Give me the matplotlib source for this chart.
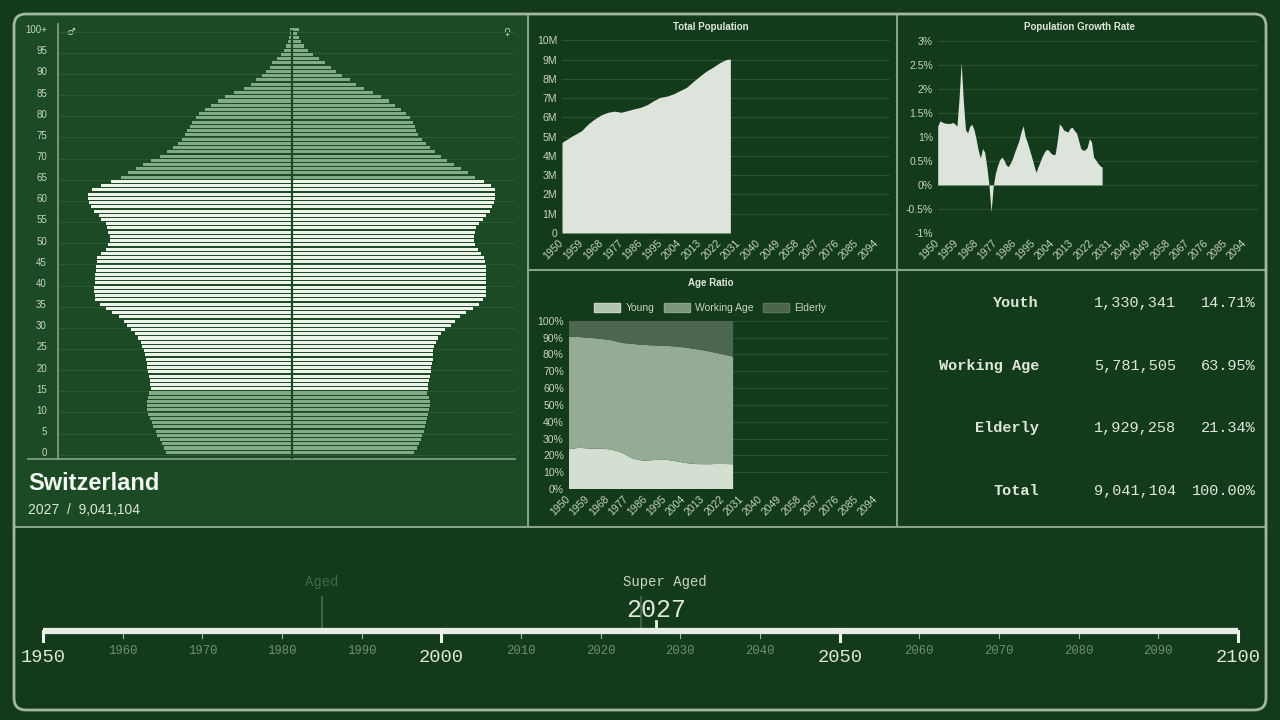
import matplotlib
matplotlib.use("Agg")
import matplotlib.pyplot as plt
from matplotlib.patches import Rectangle, FancyBboxPatch, Patch

# ---------------- data ----------------
country = "Switzerland"
current_year = 2027

ages = list(range(101))
# population per single year of age, thousands (2027)
male_k = [40.3, 41.0, 41.6, 42.2, 43.2, 43.5, 44.5, 44.8, 45.4, 46.1,
          46.4, 46.4, 46.4, 46.1, 45.8, 45.1, 45.4, 45.4, 45.8, 46.1,
          46.4, 46.4, 46.7, 47.0, 47.4, 48.0, 48.3, 49.3, 50.2, 51.5,
          52.8, 53.8, 55.4, 57.6, 59.5, 61.4, 63.0, 63.0, 63.4, 63.4,
          63.0, 63.0, 63.0, 62.7, 62.7, 62.4, 62.4, 61.1, 59.5, 58.9,
          58.2, 58.2, 58.9, 59.2, 59.5, 61.1, 61.8, 63.4, 64.3, 65.0,
          65.3, 65.3, 64.0, 61.1, 57.9, 54.7, 52.5, 49.9, 47.7, 45.1,
          42.2, 40.0, 38.1, 36.5, 35.2, 34.2, 33.6, 32.6, 32.0, 30.7,
          29.8, 27.8, 25.9, 23.7, 21.4, 18.6, 15.4, 13.1, 11.5, 9.6,
          8.3, 7.0, 6.4, 4.8, 3.5, 2.6, 1.9, 1.3, 1.0, 0.6, 0.6]
female_k = [39.0, 40.0, 40.6, 41.3, 41.6, 42.2, 42.6, 42.9, 43.2, 43.5,
            43.8, 44.2, 44.2, 43.8, 43.2, 43.5, 43.5, 43.8, 44.2, 44.5,
            44.5, 44.8, 45.1, 45.1, 45.1, 45.4, 46.1, 46.7, 47.7, 49.0,
            50.9, 52.2, 53.8, 55.7, 57.9, 59.8, 61.1, 62.1, 62.1, 62.1,
            62.1, 62.1, 62.1, 62.1, 62.1, 61.8, 61.4, 60.5, 59.5, 58.6,
            58.2, 58.2, 58.6, 58.9, 59.8, 61.1, 62.1, 63.4, 64.0, 64.6,
            65.0, 65.0, 65.0, 63.7, 61.4, 58.6, 56.3, 54.1, 51.8, 49.6,
            47.7, 45.8, 44.2, 42.9, 41.6, 40.3, 39.7, 39.4, 38.7, 37.8,
            36.5, 34.9, 33.0, 31.0, 28.5, 25.9, 23.0, 20.5, 18.6, 16.0,
            14.1, 12.5, 10.6, 8.6, 6.7, 5.1, 3.8, 2.9, 2.2, 1.6, 2.2]

pop_years = [1950, 1955, 1959, 1962, 1965, 1968, 1971, 1974, 1977, 1980, 1983, 1986, 1989,
             1992, 1995, 1998, 2001, 2004, 2007, 2010, 2013, 2016, 2019, 2022, 2025, 2027]
pop_millions = [4.71, 5.06, 5.32, 5.67, 5.93, 6.14, 6.27, 6.33, 6.27, 6.36, 6.45, 6.53, 6.67,
                6.88, 7.05, 7.11, 7.23, 7.40, 7.57, 7.87, 8.15, 8.41, 8.61, 8.84, 9.01, 9.04]

growth_years = list(range(1950, 2028))
growth_rates = [1.22, 1.33, 1.31, 1.29, 1.28, 1.28, 1.28, 1.30, 1.27, 1.22,
                1.80, 2.55, 1.75, 1.15, 1.08, 1.22, 1.26, 1.15, 0.95, 0.72,
                0.56, 0.76, 0.68, 0.38, 0.00, -0.56, -0.03, 0.24, 0.40, 0.52,
                0.58, 0.52, 0.42, 0.38, 0.45, 0.55, 0.68, 0.80, 0.92, 1.10,
                1.23, 1.00, 0.88, 0.73, 0.58, 0.42, 0.26, 0.38, 0.49, 0.60,
                0.69, 0.74, 0.72, 0.66, 0.63, 0.64, 0.92, 1.27, 1.22, 1.14,
                1.12, 1.10, 1.18, 1.20, 1.13, 1.08, 0.92, 0.76, 0.72, 0.73,
                0.78, 0.96, 0.90, 0.58, 0.52, 0.45, 0.40, 0.37]

ratio_years = [1950, 1955, 1960, 1965, 1970, 1975, 1980, 1985, 1990, 1995,
               2000, 2005, 2010, 2015, 2020, 2025, 2027]
young_pct = [23.6, 24.5, 24.0, 24.0, 23.5, 21.5, 18.0, 16.8, 17.2, 17.4,
             16.6, 15.4, 14.8, 14.7, 14.9, 14.8, 14.71]
elderly_pct = [9.5, 9.7, 10.2, 10.8, 11.6, 13.2, 13.8, 14.4, 14.7, 14.9,
               15.3, 16.0, 17.0, 18.0, 19.4, 20.8, 21.34]
working_pct = [100 - y - e for y, e in zip(young_pct, elderly_pct)]

table_labels = ["Youth", "Working Age", "Elderly", "Total"]
table_counts = [1330341, 5781505, 1929258, 9041104]
table_pcts = [14.71, 63.95, 21.34, 100.00]

milestones = [("Aged", 1985), ("Super Aged", 2025)]
major_years = [1950, 2000, 2050, 2100]
minor_years = [1960, 1970, 1980, 1990, 2010, 2020, 2030, 2040, 2060, 2070, 2080, 2090]

# ---------------- style ----------------
BG = "#143a1c"
PANEL = "#1c4a25"
LINE = "#86a386"
TXT = "#dde7da"
TICK = "#c6d4c3"
GRID = "#2a5331"
FILL = "#dde4dc"
SANS = "Liberation Sans"
MONO = "Liberation Mono"
plt.rcParams["font.family"] = [SANS, "DejaVu Sans"]

fig = plt.figure(figsize=(12.8, 7.2), dpi=100, facecolor=BG)


def rect(x0, y0, x1, y1):
    return [x0 / 1280, 1 - y1 / 720, (x1 - x0) / 1280, (y1 - y0) / 720]


bg = fig.add_axes([0, 0, 1, 1])
bg.set_xlim(0, 1280); bg.set_ylim(720, 0); bg.axis("off")
frame = FancyBboxPatch((14, 14), 1252, 696, boxstyle="round,pad=0,rounding_size=12",
                       fc=BG, ec="none", zorder=0)
bg.add_patch(frame)
pyr_bg = Rectangle((14, 14), 514, 513, fc=PANEL, ec="none", zorder=1)
bg.add_patch(pyr_bg); pyr_bg.set_clip_path(frame)
bg.add_patch(FancyBboxPatch((14, 14), 1252, 696, boxstyle="round,pad=0,rounding_size=12",
                            fc="none", ec="#a3b8a1", lw=2, zorder=5))
for xs, ys in [([528, 528], [14, 527]), ([897, 897], [14, 527]),
               ([528, 1266], [270, 270]), ([14, 1266], [527, 527])]:
    bg.plot(xs, ys, color=LINE, lw=1.5, zorder=4)

# ---------------- pyramid ----------------
ax = fig.add_axes(rect(58, 24, 515, 459))
ax.set_facecolor("none")
cols = ["#80ad84" if (a < 15 or a >= 65) else "#eef4ec" for a in ages]
ax.barh(ages, [-m for m in male_k], height=0.72, color=cols, lw=0, zorder=2)
ax.barh(ages, female_k, height=0.72, color=cols, lw=0, zorder=2)
ax.axvline(0, ymin=0, ymax=0.985, color=PANEL, lw=1.6, zorder=3)
for a in range(0, 101, 5):
    ax.axhline(a - 0.6, color="#2b5a33", lw=0.8, zorder=1)
ax.set_xlim(-74.9, 71.4); ax.set_ylim(-1.6, 101.2)
ax.set_yticks(range(0, 101, 5))
ax.set_yticklabels([str(a) if a < 100 else "100+" for a in range(0, 101, 5)])
ax.tick_params(axis="y", length=0, pad=8, labelsize=7, labelcolor=TICK)
ax.set_xticks([])
for s in ["top", "right", "bottom"]:
    ax.spines[s].set_visible(False)
ax.spines["left"].set_color(LINE); ax.spines["left"].set_linewidth(1.2)
bg.plot([28, 515], [459, 459], color=LINE, lw=1.2, zorder=4)
bg.text(71, 32, "\u2642", color=TICK, fontsize=7, ha="center", va="center",
        family="DejaVu Sans", zorder=6)
bg.text(507, 32, "\u2640", color=TICK, fontsize=7, ha="center", va="center",
        family="DejaVu Sans", zorder=6)
bg.text(28, 483, country, color="#f2f6f0", fontsize=17, fontweight="bold",
        ha="left", va="center", zorder=6)
bg.text(28, 510, f"{current_year}  /  {table_counts[-1]:,}", color=TXT, fontsize=10,
        ha="left", va="center", zorder=6)

xt = list(range(1950, 2100, 9))


def style_chart(a, title, tx, ty):
    a.set_facecolor("none")
    for s in a.spines.values():
        s.set_visible(False)
    a.grid(axis="y", color=GRID, lw=0.8)
    a.set_axisbelow(True)
    a.set_xlim(1950, 2100)
    a.set_xticks(xt)
    a.set_xticklabels([str(y) for y in xt], rotation=45, ha="right", va="center",
                      rotation_mode="anchor")
    a.tick_params(length=0, labelsize=7.5, labelcolor=TICK)
    a.tick_params(axis="x", pad=6)
    bg.text(tx, ty, title, color=TXT, fontsize=7, fontweight="bold",
            ha="center", va="center", zorder=6)


# ---------------- total population ----------------
ax2 = fig.add_axes(rect(562, 40.5, 890, 233))
ax2.fill_between(pop_years, pop_millions, color=FILL, lw=0, zorder=2)
ax2.set_ylim(0, 10)
ax2.set_yticks(range(11))
ax2.set_yticklabels(["0"] + [f"{i}M" for i in range(1, 11)])
style_chart(ax2, "Total Population", 711, 27)

# ---------------- growth rate ----------------
ax3 = fig.add_axes(rect(937.7, 40.7, 1258, 233))
ax3.fill_between(growth_years, growth_rates, 0, color=FILL, lw=0, zorder=2)
ax3.set_ylim(-1, 3)
gt = [-1, -0.5, 0, 0.5, 1, 1.5, 2, 2.5, 3]
ax3.set_yticks(gt)
ax3.set_yticklabels([f"{v:g}%" for v in gt])
style_chart(ax3, "Population Growth Rate", 1080, 27)

# ---------------- age ratio ----------------
ax4 = fig.add_axes(rect(568.7, 320.7, 889, 489))
ax4.stackplot(ratio_years, young_pct, working_pct, elderly_pct,
              colors=["#d3dfd1", "#96ab95", "#4c674f"], lw=0, zorder=2)
ax4.set_ylim(0, 100)
ax4.set_yticks(range(0, 101, 10))
ax4.set_yticklabels([f"{v}%" for v in range(0, 101, 10)])
style_chart(ax4, "Age Ratio", 711, 283)
handles = [Patch(fc="#b0c3ae", ec="#c5d3c3", lw=1),
           Patch(fc="#7b957c", ec="#8aa38b", lw=1),
           Patch(fc="#4a654c", ec="#587459", lw=1)]
fig.legend(handles, ["Young", "Working Age", "Elderly"], loc="center",
           bbox_to_anchor=(710 / 1280, 1 - 308 / 720), ncol=3, frameon=False,
           fontsize=7.5, handlelength=2.5, handleheight=1.0, handletextpad=0.5,
           columnspacing=0.9, labelcolor=TICK)

# ---------------- table ----------------
for i, (lab, cnt, pct) in enumerate(zip(table_labels, table_counts, table_pcts)):
    y = 303 + i * 62.7
    bg.text(1039, y, lab, family=MONO, fontweight="bold", fontsize=11, color=TXT,
            ha="right", va="center", zorder=6)
    bg.text(1176, y, f"{cnt:,}", family=MONO, fontsize=11, color=TXT,
            ha="right", va="center", zorder=6)
    bg.text(1256, y, f"{pct:.2f}%", family=MONO, fontsize=11, color=TXT,
            ha="right", va="center", zorder=6)

# ---------------- timeline ----------------
tl = fig.add_axes(rect(43, 540, 1238, 700))
tl.set_xlim(1950, 2100); tl.set_ylim(700, 540); tl.axis("off")
for (name, yr), tc in zip(milestones, ["#3f6a47", "#c8d6c6"]):
    tl.plot([yr, yr], [597, 628], color="#3c6243", lw=1.5, zorder=1)
    tx = yr if name == "Aged" else yr + 3
    tl.text(tx, 582, name, family=MONO, fontsize=10, color=tc, ha="center",
            va="center", clip_on=False)
tl.plot([1950, 2100], [631, 631], color="#e6ede4", lw=4.5, solid_capstyle="butt", zorder=3)
for yr in minor_years:
    tl.plot([yr, yr], [631, 638], color="#a5b8a3", lw=0.8, zorder=2)
    tl.text(yr, 651, str(yr), family=MONO, fontsize=8.8, color="#6d8f6e",
            ha="center", va="center", clip_on=False)
for yr in major_years:
    tl.plot([yr, yr], [631, 641], color="#eef3ec", lw=2.2, zorder=3, clip_on=False)
    tl.text(yr, 657, str(yr), family=MONO, fontsize=13.5, color=TXT,
            ha="center", va="center", clip_on=False)
tl.plot([current_year, current_year], [621, 631], color="#eef3ec", lw=2, zorder=3)
tl.text(current_year, 610, str(current_year), family=MONO, fontsize=18, color=TXT,
        ha="center", va="center", clip_on=False)

fig.savefig("out.png", dpi=100, facecolor=BG)
